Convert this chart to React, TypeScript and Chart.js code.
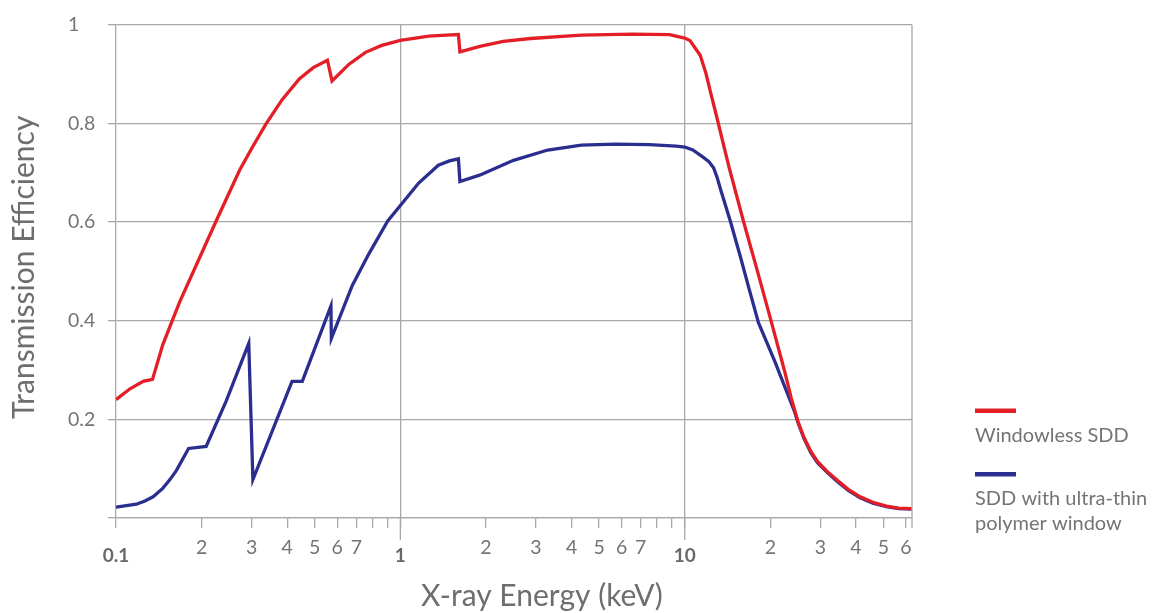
import React, { useEffect, useRef } from 'react';
import { Chart, registerables } from 'chart.js';

Chart.register(...registerables);

// ---- data ----
const windowlessEnergy = [
  0.1, 0.112, 0.1246, 0.1344, 0.146, 0.163, 0.1675, 0.225, 0.272, 0.302, 0.337, 0.384, 0.441,
  0.494, 0.554, 0.575, 0.66, 0.754, 0.86, 1.0, 1.26, 1.45, 1.6, 1.62, 1.904, 2.3, 2.87, 4.33,
  6.54, 8.85, 10, 10.43, 11.34, 11.88, 12.33, 12.86, 14.31, 16.12, 17.93, 20.2, 22.47, 23.7, 25.0,
  26.28, 27.8, 29.3, 31.75, 34.4, 37.6, 41.4, 45.9, 51.2, 56.5, 63,
];
const windowlessEff = [
  0.24, 0.262, 0.277, 0.281, 0.351, 0.421, 0.438, 0.602, 0.705, 0.752, 0.799, 0.848, 0.89,
  0.913, 0.928, 0.886, 0.92, 0.944, 0.958, 0.968, 0.977, 0.979, 0.98, 0.945, 0.956, 0.966, 0.972,
  0.979, 0.981, 0.98, 0.973, 0.968, 0.938, 0.901, 0.863, 0.821, 0.712, 0.6, 0.505, 0.396, 0.297,
  0.243, 0.196, 0.163, 0.1345, 0.1145, 0.094, 0.0763, 0.058, 0.043, 0.032, 0.024, 0.02, 0.019,
];
const polymerEnergy = [
  0.1, 0.118, 0.1264, 0.135, 0.146, 0.1545, 0.163, 0.18, 0.2075, 0.244, 0.293, 0.303, 0.416,
  0.452, 0.57, 0.572, 0.677, 0.774, 0.903, 1.0, 1.16, 1.36, 1.488, 1.6, 1.62, 1.9, 2.5, 3.3, 4.33,
  5.7, 7.5, 9.33, 10, 10.68, 11.57, 12.14, 12.63, 12.99, 13.39, 14.5, 15.69, 16.89, 18.17, 20.76,
  24.36, 25.0, 26.28, 27.8, 29.3, 31.75, 34.4, 37.6, 41.4, 45.9, 51.2, 56.5, 63,
];
const polymerEff = [
  0.022, 0.028, 0.0345, 0.043, 0.06, 0.0773, 0.096, 0.141, 0.145, 0.237, 0.354, 0.078, 0.277,
  0.277, 0.43, 0.364, 0.471, 0.535, 0.602, 0.6335, 0.679, 0.715, 0.724, 0.728, 0.682, 0.695,
  0.725, 0.746, 0.756, 0.758, 0.757, 0.754, 0.752, 0.746, 0.732, 0.723, 0.71, 0.691, 0.665, 0.6,
  0.53, 0.462, 0.396, 0.317, 0.215, 0.194, 0.161, 0.132, 0.112, 0.092, 0.074, 0.056, 0.041, 0.03,
  0.023, 0.019, 0.018,
];

const xTickValues = [
  0.1, 0.2, 0.3, 0.4, 0.5, 0.6, 0.7, 0.8, 0.9,
  1, 2, 3, 4, 5, 6, 7, 8, 9,
  10, 20, 30, 40, 50, 60,
];
const xTickLabels = [
  '0.1', '2', '3', '4', '5', '6', '7', '', '',
  '1', '2', '3', '4', '5', '6', '7', '', '',
  '10', '2', '3', '4', '5', '6',
];
const majorTicks = [0.1, 1, 10];
const gridExtendTicks = [1, 10];
const yTickValues = [0, 0.2, 0.4, 0.6, 0.8, 1];
const yTickLabels = ['', '0.2', '0.4', '0.6', '0.8', '1'];

const seriesNames = ['Windowless SDD', 'SDD with ultra-thin polymer window'];
const legendLabelLines = [['Windowless SDD'], ['SDD with ultra-thin', 'polymer window']];
const xTitle = 'X-ray Energy (keV)';
const yTitle = 'Transmission Efficiency';

// ---- styles ----
const FONT = 'Lato, "DejaVu Sans", sans-serif';
const GRID = '#a8a8a8';
const TEXT = '#737477';
const TEXT_MAJOR = '#67686b';
const RED = '#e31e26';
const BLUE = '#2a2e8e';
const seriesColors = [RED, BLUE];

const decorPlugin = {
  id: 'decor',
  afterDraw(chart: any) {
    const { ctx, chartArea, scales } = chart;
    const xs = scales.x;
    ctx.save();
    // right border
    ctx.strokeStyle = GRID;
    ctx.lineWidth = 1.3;
    ctx.beginPath();
    ctx.moveTo(chartArea.right, chartArea.top);
    ctx.lineTo(chartArea.right, chartArea.bottom + 10);
    ctx.stroke();
    // longer marks for decade lines
    gridExtendTicks.forEach((v) => {
      const px = xs.getPixelForValue(v);
      ctx.beginPath();
      ctx.moveTo(px, chartArea.bottom);
      ctx.lineTo(px, chartArea.bottom + 22);
      ctx.stroke();
    });

    // axis titles
    ctx.fillStyle = '#6d6e71';
    ctx.font = `30px ${FONT}`;
    ctx.textAlign = 'center';
    ctx.textBaseline = 'alphabetic';
    const xCenter = chartArea.left + (chartArea.right - chartArea.left) * 0.535;
    ctx.fillText(xTitle, xCenter, chartArea.bottom + 88);
    ctx.save();
    ctx.translate(34, (chartArea.top + chartArea.bottom) / 2 - 4);
    ctx.rotate(-Math.PI / 2);
    ctx.fillText(yTitle, 0, 0);
    ctx.restore();

    // legend
    const lx = chartArea.right + 63;
    const entries = [
      { y: chartArea.top + 386, lines: legendLabelLines[0], color: seriesColors[0] },
      { y: chartArea.top + 449.5, lines: legendLabelLines[1], color: seriesColors[1] },
    ];
    entries.forEach((e) => {
      ctx.strokeStyle = e.color;
      ctx.lineWidth = 4.5;
      ctx.beginPath();
      ctx.moveTo(lx, e.y);
      ctx.lineTo(lx + 41, e.y);
      ctx.stroke();
      ctx.fillStyle = TEXT;
      ctx.font = `20px ${FONT}`;
      ctx.textAlign = 'left';
      ctx.textBaseline = 'alphabetic';
      e.lines.forEach((t, i) => {
        ctx.fillText(t, lx, e.y + 31 + i * 25);
      });
    });
    ctx.restore();
  },
};

export default function App() {
  const canvasRef = useRef<HTMLCanvasElement | null>(null);

  useEffect(() => {
    if (!canvasRef.current) return;
    const lineStyle = {
      borderWidth: 3.3,
      pointRadius: 0,
      tension: 0,
      borderJoinStyle: 'miter' as const,
      fill: false,
    };
    const chart = new Chart(canvasRef.current, {
      type: 'line',
      data: {
        datasets: [
          {
            label: seriesNames[0],
            data: windowlessEnergy.map((e, i) => ({ x: e, y: windowlessEff[i] })),
            borderColor: seriesColors[0],
            backgroundColor: seriesColors[0],
            ...lineStyle,
          },
          {
            label: seriesNames[1],
            data: polymerEnergy.map((e, i) => ({ x: e, y: polymerEff[i] })),
            borderColor: seriesColors[1],
            backgroundColor: seriesColors[1],
            ...lineStyle,
          },
        ],
      },
      options: {
        responsive: true,
        maintainAspectRatio: false,
        animation: false,
        events: [],
        layout: { padding: { left: 68, top: 20, right: 241, bottom: 0 } },
        plugins: {
          legend: { display: false },
          tooltip: { enabled: false },
          title: { display: false },
        },
        scales: {
          x: {
            type: 'logarithmic',
            min: 0.1,
            max: 63,
            afterBuildTicks: (s: any) => {
              s.ticks = xTickValues.map((v) => ({ value: v, major: majorTicks.includes(v) }));
            },
            afterFit: (s: any) => {
              s.height = 95;
            },
            ticks: {
              autoSkip: false,
              maxRotation: 0,
              minRotation: 0,
              padding: 8,
              color: (c: any) => (c.tick && c.tick.major ? TEXT_MAJOR : TEXT),
              font: (c: any) =>
                c.tick && c.tick.major
                  ? { family: FONT, size: 19, weight: 'bold', lineHeight: 2.05 }
                  : { family: FONT, size: 19.5, lineHeight: 1.2 },
              callback: (_v: any, i: number) => xTickLabels[i],
            },
            grid: {
              color: (c: any) =>
                c.tick && gridExtendTicks.includes(c.tick.value) ? GRID : 'rgba(0,0,0,0)',
              tickColor: GRID,
              tickLength: 10,
              lineWidth: 1.3,
              tickWidth: 1.3,
            },
            border: { display: true, color: GRID, width: 1.3 },
          },
          y: {
            type: 'linear',
            min: 0,
            max: 1,
            afterBuildTicks: (s: any) => {
              s.ticks = yTickValues.map((v) => ({ value: v }));
            },
            afterFit: (s: any) => {
              s.width = 48;
            },
            ticks: {
              padding: 13,
              crossAlign: 'far',
              color: TEXT,
              font: { family: FONT, size: 19.5 },
              callback: (_v: any, i: number) => yTickLabels[i],
            },
            grid: {
              color: GRID,
              tickColor: GRID,
              tickLength: 8,
              lineWidth: 1.3,
              tickWidth: 1.3,
            },
            border: { display: true, color: GRID, width: 1.3 },
          },
        },
      } as any,
      plugins: [decorPlugin],
    });
    return () => chart.destroy();
  }, []);

  return (
    <div style={{ position: 'absolute', left: 0, top: 0, width: 1153, height: 613, background: '#fff' }}>
      <canvas ref={canvasRef} />
    </div>
  );
}
